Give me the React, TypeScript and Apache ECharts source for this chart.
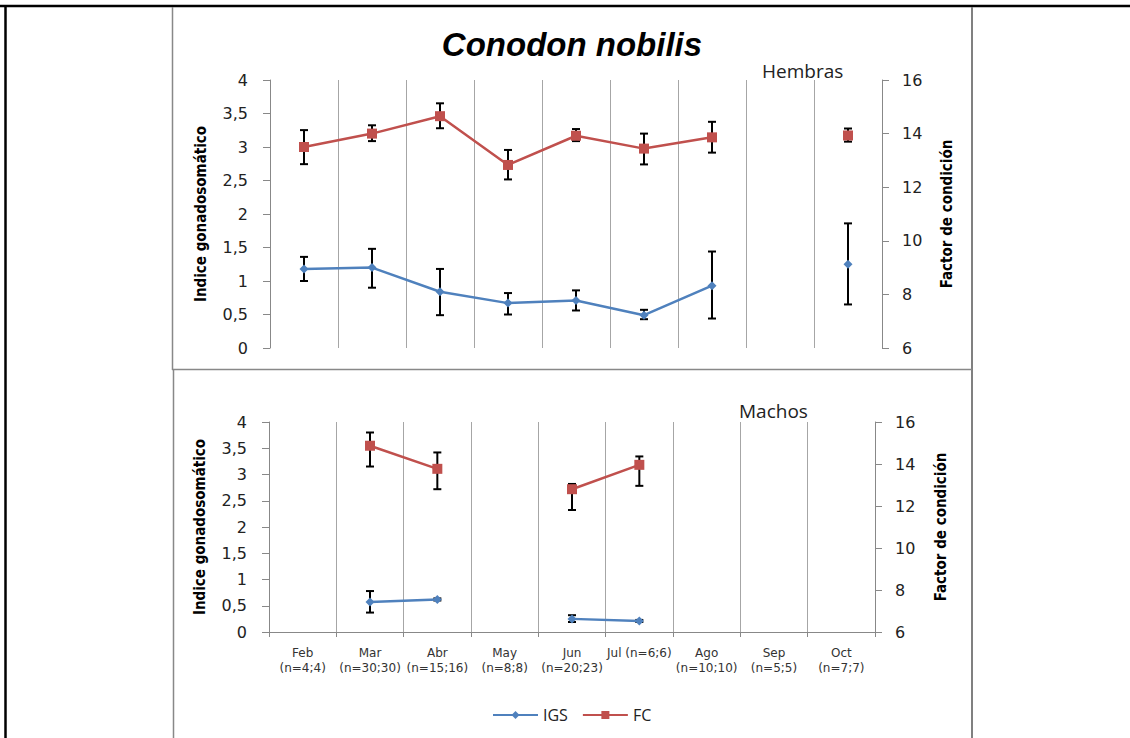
import React, { useEffect, useRef } from "react";
import * as echarts from "echarts";

// ---- Data ----
const months = ["Feb", "Mar", "Abr", "May", "Jun", "Jul", "Ago", "Sep", "Oct"];
const sampleSizes = ["(n=4;4)", "(n=30;30)", "(n=15;16)", "(n=8;8)", "(n=20;23)", "(n=6;6)", "(n=10;10)", "(n=5;5)", "(n=7;7)"];
const igsTicks = { min: 0, max: 4, step: 0.5 };
const fcTicks = { min: 6, max: 16, step: 2 };

// Hembras (females)
const femIGS = [1.18, 1.2, 0.84, 0.67, 0.71, 0.49, 0.93, null, 1.25];
const femIGSLow = [1.0, 0.9, 0.49, 0.5, 0.56, 0.43, 0.44, null, 0.65];
const femIGSHigh = [1.36, 1.48, 1.18, 0.82, 0.86, 0.57, 1.44, null, 1.86];
const femFC = [13.5, 14.0, 14.65, 12.83, 13.92, 13.44, 13.86, null, 13.93];
const femFCLow = [12.86, 13.72, 14.2, 12.29, 13.72, 12.85, 13.29, null, 13.7];
const femFCHigh = [14.13, 14.31, 15.13, 13.39, 14.17, 14.0, 14.44, null, 14.19];

// Machos (males)
const maleIGS = [null, 0.57, 0.62, null, 0.25, 0.21, null, null, null];
const maleIGSLow = [null, 0.37, 0.6, null, 0.19, 0.19, null, null, null];
const maleIGSHigh = [null, 0.78, 0.64, null, 0.32, 0.23, null, null, null];
const maleFC = [null, 14.87, 13.77, null, 12.8, 13.96, null, null, null];
const maleFCLow = [null, 13.88, 12.8, null, 11.81, 12.96, null, null, null];
const maleFCHigh = [null, 15.5, 14.55, null, 13.05, 14.36, null, null, null];

const BLUE = "#4F81BD";
const RED = "#C0504D";
const AXIS = "#888888";
const GRID = "#a6a6a6";
const TICKFONT = "'DejaVu Sans', Verdana, sans-serif";
const TITLEFONT = "'Liberation Sans Narrow', 'DejaVu Sans Condensed', 'Liberation Sans', sans-serif";

const bottomLabels = months.map((m, i) => (m === "Jul" ? `${m} ${sampleSizes[i]}` : `${m}\n${sampleSizes[i]}`));

function errorData(low: (number | null)[], high: (number | null)[]) {
  const out: number[][] = [];
  low.forEach((l, i) => {
    const h = high[i];
    if (l != null && h != null) out.push([i, l, h]);
  });
  return out;
}

function errorSeries(name: string, low: (number | null)[], high: (number | null)[], xi: number, yi: number) {
  return {
    name,
    type: "custom",
    xAxisIndex: xi,
    yAxisIndex: yi,
    z: 1,
    encode: { x: 0, y: [1, 2] },
    data: errorData(low, high),
    renderItem: (params: any, api: any) => {
      const x = api.value(0);
      const lo = api.coord([x, api.value(1)]);
      const hi = api.coord([x, api.value(2)]);
      const hw = 4;
      const st = { stroke: "#000", lineWidth: 2 };
      return {
        type: "group",
        children: [
          { type: "line", shape: { x1: lo[0], y1: lo[1], x2: hi[0], y2: hi[1] }, style: st },
          { type: "line", shape: { x1: lo[0] - hw, y1: lo[1], x2: lo[0] + hw, y2: lo[1] }, style: st },
          { type: "line", shape: { x1: hi[0] - hw, y1: hi[1], x2: hi[0] + hw, y2: hi[1] }, style: st },
        ],
      };
    },
  };
}

function lineSeries(name: string, data: (number | null)[], xi: number, yi: number, color: string, symbol: string, size: number) {
  return {
    name,
    type: "line",
    xAxisIndex: xi,
    yAxisIndex: yi,
    z: 3,
    data: data.map((v) => (v == null ? "-" : v)),
    symbol,
    symbolSize: size,
    showSymbol: true,
    connectNulls: false,
    lineStyle: { color, width: 2.5 },
    itemStyle: { color },
  };
}

const commaFmt = (v: number) => String(v).replace(".", ",");

function leftAxis(gridIndex: number, nameGap: number) {
  return {
    type: "value",
    gridIndex,
    position: "left",
    min: igsTicks.min,
    max: igsTicks.max,
    interval: igsTicks.step,
    axisLine: { show: true, lineStyle: { color: AXIS, width: 1 } },
    axisTick: { show: true, length: 7, lineStyle: { color: AXIS } },
    splitLine: { show: false },
    axisLabel: { margin: 22, formatter: commaFmt, color: "#222", fontSize: 16, fontFamily: TICKFONT },
    name: "Indice gonadosomático",
    nameLocation: "middle",
    nameRotate: 90,
    nameGap,
    nameTextStyle: { fontFamily: TITLEFONT, fontWeight: "bold", fontSize: 15, color: "#000" },
  };
}

function rightAxis(gridIndex: number, nameGap: number) {
  return {
    type: "value",
    gridIndex,
    position: "right",
    min: fcTicks.min,
    max: fcTicks.max,
    interval: fcTicks.step,
    axisLine: { show: true, lineStyle: { color: AXIS, width: 1 } },
    axisTick: { show: true, length: 7, lineStyle: { color: AXIS } },
    splitLine: { show: false },
    axisLabel: { margin: 20, color: "#222", fontSize: 16, fontFamily: TICKFONT },
    name: "Factor de condición",
    nameLocation: "middle",
    nameRotate: 90,
    nameGap,
    nameTextStyle: { fontFamily: TITLEFONT, fontWeight: "bold", fontSize: 15, color: "#000" },
  };
}

export default function App() {
  const ref = useRef<HTMLDivElement>(null);
  useEffect(() => {
    if (!ref.current) return;
    const chart = echarts.init(ref.current, undefined, { renderer: "svg" });
    const option: any = {
      animation: false,
      backgroundColor: "#fff",
      grid: [
        { left: 270, top: 80, width: 612, height: 268 },
        { left: 269, top: 422, width: 606, height: 210 },
      ],
      xAxis: [
        {
          type: "category",
          gridIndex: 0,
          data: months,
          boundaryGap: true,
          axisLine: { show: false },
          axisTick: { show: false },
          axisLabel: { show: false },
          splitLine: { show: true, lineStyle: { color: GRID, width: 1 } },
        },
        {
          type: "category",
          gridIndex: 1,
          data: bottomLabels,
          boundaryGap: true,
          axisLine: { show: true, lineStyle: { color: AXIS, width: 1 } },
          axisTick: { show: true, length: 5, lineStyle: { color: AXIS } },
          axisLabel: { interval: 0, margin: 13, fontSize: 12, lineHeight: 15, color: "#333", fontFamily: TICKFONT },
          splitLine: { show: true, lineStyle: { color: GRID, width: 1 } },
        },
      ],
      yAxis: [leftAxis(0, 62), rightAxis(0, 57), leftAxis(1, 62), rightAxis(1, 58)],
      legend: {
        data: ["IGS", "FC"],
        left: 487,
        top: 702,
        itemWidth: 45,
        itemHeight: 10,
        itemGap: 14,
        textStyle: { fontSize: 16, fontFamily: "'Open Sans', sans-serif", color: "#222" },
      },
      series: [
        errorSeries("errFemIGS", femIGSLow, femIGSHigh, 0, 0),
        errorSeries("errFemFC", femFCLow, femFCHigh, 0, 1),
        lineSeries("IGS", femIGS, 0, 0, BLUE, "diamond", 9),
        lineSeries("FC", femFC, 0, 1, RED, "rect", 10),
        errorSeries("errMaleIGS", maleIGSLow, maleIGSHigh, 1, 2),
        errorSeries("errMaleFC", maleFCLow, maleFCHigh, 1, 3),
        lineSeries("IGS", maleIGS, 1, 2, BLUE, "diamond", 9),
        lineSeries("FC", maleFC, 1, 3, RED, "rect", 10),
      ],
      graphic: [
        { type: "line", shape: { x1: 0, y1: 6, x2: 1130, y2: 6 }, style: { stroke: "#000", lineWidth: 2.5 } },
        { type: "line", shape: { x1: 5.5, y1: 5, x2: 5.5, y2: 738 }, style: { stroke: "#000", lineWidth: 2.5 } },
        { type: "line", shape: { x1: 972, y1: 7, x2: 972, y2: 738 }, style: { stroke: "#808080", lineWidth: 2 } },
        { type: "line", shape: { x1: 172.5, y1: 7, x2: 172.5, y2: 370 }, style: { stroke: AXIS, lineWidth: 1.5 } },
        { type: "line", shape: { x1: 172, y1: 369.5, x2: 972, y2: 369.5 }, style: { stroke: AXIS, lineWidth: 1.5 } },
        { type: "line", shape: { x1: 173.5, y1: 370, x2: 173.5, y2: 738 }, style: { stroke: AXIS, lineWidth: 1.5 } },
        {
          type: "text",
          x: 572,
          y: 44,
          style: {
            text: "Conodon nobilis",
            font: "italic bold 33px 'Liberation Sans', Arial, sans-serif",
            fill: "#000",
            align: "center",
            verticalAlign: "middle",
          },
        },
        {
          type: "text",
          x: 762,
          y: 71,
          style: { text: "Hembras", font: "19px 'Open Sans', sans-serif", fill: "#222", align: "left", verticalAlign: "middle" },
        },
        {
          type: "text",
          x: 739,
          y: 411,
          style: { text: "Machos", font: "19px 'Open Sans', sans-serif", fill: "#222", align: "left", verticalAlign: "middle" },
        },
      ],
    };
    chart.setOption(option);
    return () => chart.dispose();
  }, []);
  return (
    <div
      ref={ref}
      style={{ position: "fixed", left: 0, top: 0, width: 1130, height: 738, background: "#fff" }}
    />
  );
}
